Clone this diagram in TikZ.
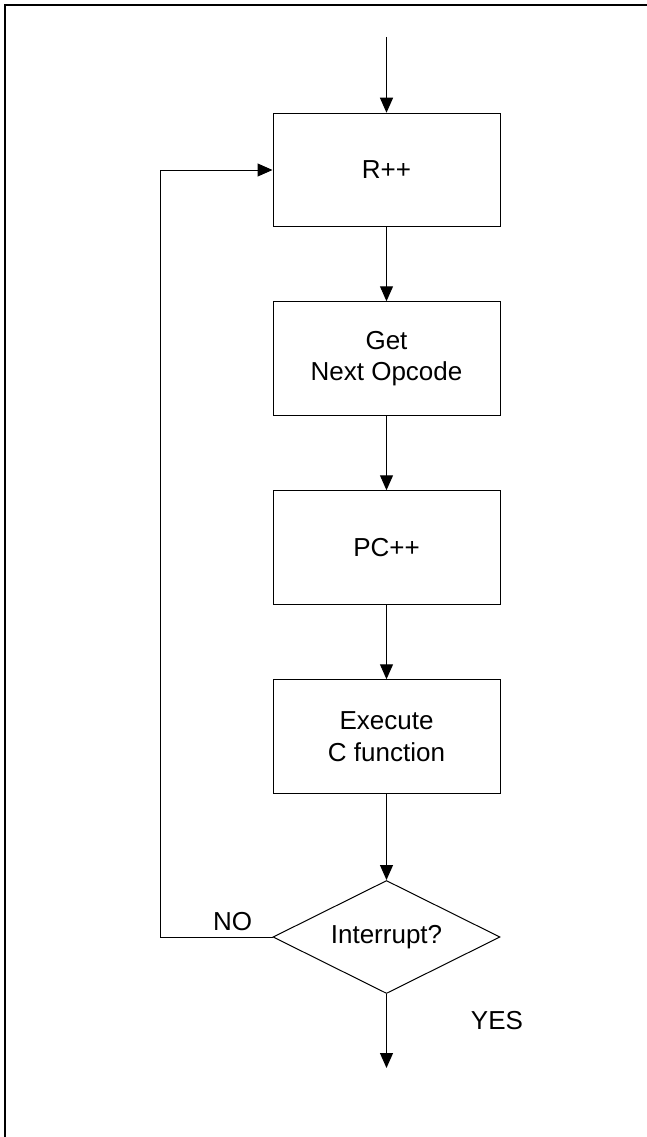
\documentclass[tikz,border=0pt]{standalone}
\usepackage{fontspec}
\setmainfont{Liberation Sans}
\usetikzlibrary{shapes.geometric,arrows.meta}
\begin{document}
\begin{tikzpicture}[x=1pt,y=-1pt,
  font=\fontsize{26}{31.7}\selectfont,
  stepbox/.style={draw, line width=1pt, minimum width=227pt, minimum height=113.5pt, inner sep=0pt, align=center},
  decision/.style={draw, line width=1pt, diamond, aspect=2, minimum width=227pt, minimum height=113pt, inner sep=0pt},
  arr/.style={line width=1pt, -{Triangle[length=15pt,width=13pt]}},
  lbl/.style={anchor=base, inner sep=0pt}]
\useasboundingbox (0,0) rectangle (647,1137);
\draw[line width=2pt] (5,1137) -- (5,5) -- (647,5);
\node[stepbox] (r) at (386.5,170) {R++};
\node[stepbox] (get) at (386.5,358.5) {Get\\Next Opcode};
\node[stepbox] (pc) at (386.5,547.5) {PC++};
\node[stepbox] (exec) at (386.5,736.5) {Execute\\C function};
\node[decision] (int) at (386.5,937) {Interrupt?};
\coordinate (start) at (386.5,37);
\coordinate (stop) at (386.5,1068);
\coordinate (corner) at (160,937);
\draw[arr] (start) -- (r);
\draw[arr] (r) -- (get);
\draw[arr] (get) -- (pc);
\draw[arr] (pc) -- (exec);
\draw[arr] (exec) -- (int);
\draw[arr] (int.west) -- (corner) |- (r.west);
\draw[arr] (int.south) -- (stop);
\node[lbl] (no) at (232.5,930) {NO};
\node[lbl] (yes) at (497,1029) {YES};
\end{tikzpicture}
\end{document}
